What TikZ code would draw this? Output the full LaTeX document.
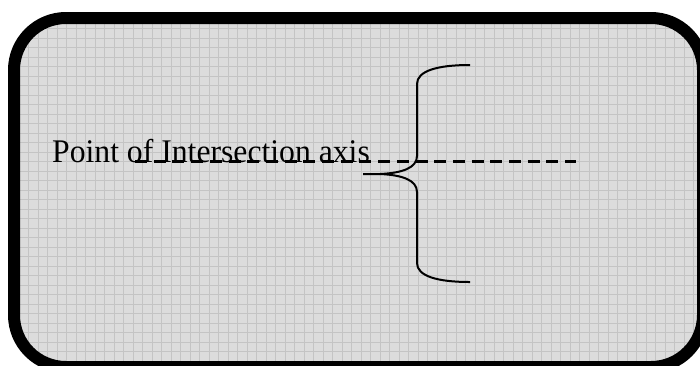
\documentclass[tikz,border=0pt]{standalone}
\usepackage{fontspec}
\setmainfont{Liberation Serif}
\newfontfamily\labelfont[FakeStretch=0.96]{Liberation Serif}
\usetikzlibrary{positioning}
\definecolor{panelgray}{HTML}{DCDCDC}
\definecolor{gridgray}{HTML}{C4C4C4}
\tikzset{
  panelframe/.style={line width=12pt, draw=black, rounded corners=52pt},
  panelfill/.style={fill=panelgray, rounded corners=52pt},
  panelgrid/.style={draw=gridgray, line width=0.9pt},
  axislabel/.style={font=\labelfont\fontsize{33}{40}\selectfont, inner sep=0pt, anchor=base west},
  axisdash/.style={line width=2.4pt, dash pattern=on 12pt off 6.7pt},
  bracestroke/.style={line width=2pt, line join=round},
}
\begin{document}
\begin{tikzpicture}[x=1pt, y=-1pt]
  \useasboundingbox (0,0) rectangle (700,365);
  % panel
  \fill[panelfill] (14,18) rectangle (703,367);
  \begin{scope}
    \clip[rounded corners=52pt] (14,18) rectangle (703,367);
    \draw[panelgrid, step=9.5pt] (0,0) grid (710,370);
  \end{scope}
  \draw[panelframe] (14,18) rectangle (703,367);
  % label and axis
  \node[axislabel] (poi) at (52,162) {Point of Intersection axis};
  \coordinate (dashstart) at (135,161.5);
  \coordinate (dashend) at (576,161.5);
  \draw[axisdash] (dashstart) -- (dashend);
  % brace
  \coordinate (bracetip) at (363,174);
  \coordinate (bracetop) at (470,65);
  \coordinate (bracebot) at (470,282);
  \draw[bracestroke] (bracetop) .. controls (437,65) and (417,71) .. (417,84)
    -- (417,156) .. controls (417,168) and (402,173) .. (380,174)
    -- (bracetip);
  \draw[bracestroke] (380,174) .. controls (402,175) and (417,180) .. (417,192)
    -- (417,263) .. controls (417,276) and (437,282) .. (bracebot);
\end{tikzpicture}
\end{document}
